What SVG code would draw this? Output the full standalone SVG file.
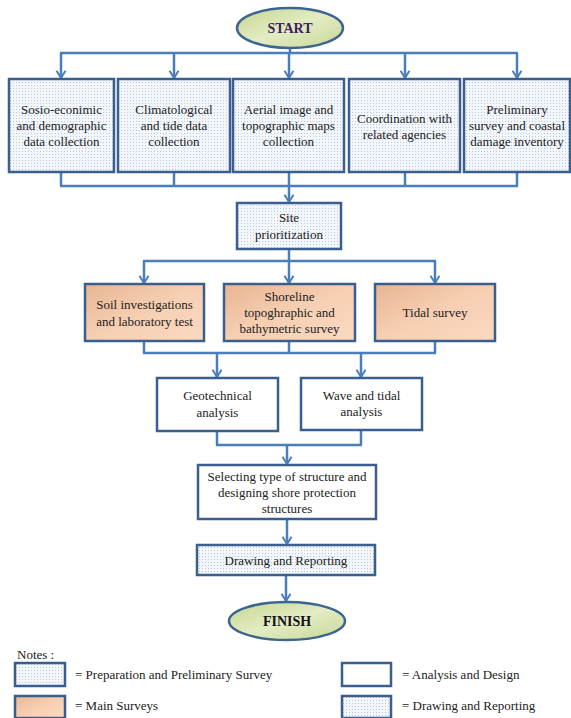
<svg xmlns="http://www.w3.org/2000/svg" width="571" height="718" viewBox="0 0 571 718">
<defs>
<pattern id="dots" width="3" height="3" patternUnits="userSpaceOnUse">
<rect width="3" height="3" fill="#f3f6fa"/>
<rect x="1" y="1" width="1" height="1" fill="#b9c9de"/>
</pattern>
<linearGradient id="orange" x1="0" y1="0" x2="1" y2="1">
<stop offset="0" stop-color="#e8b592"/>
<stop offset="0.5" stop-color="#f6cfb3"/>
<stop offset="1" stop-color="#fbd9c0"/>
</linearGradient>
<linearGradient id="green" x1="0" y1="0" x2="1" y2="1">
<stop offset="0" stop-color="#c5d78f"/>
<stop offset="0.5" stop-color="#e3ecc4"/>
<stop offset="1" stop-color="#c7d896"/>
</linearGradient>
<marker id="arr" viewBox="0 0 10 12" refX="9" refY="6" markerWidth="9" markerHeight="12" markerUnits="userSpaceOnUse" orient="auto">
<path d="M1,1 L9,6 L1,11" fill="none" stroke="#4a7ebb" stroke-width="2.2"/>
</marker>
</defs>
<style>
.box{stroke:#3a5f8f;stroke-width:2.5}
.prep{fill:url(#dots)}
.main{fill:url(#orange)}
.ana{fill:#ffffff}
.ell{fill:url(#green);stroke:#3d6590;stroke-width:2.5}
.t{font-family:"Liberation Serif","Times New Roman",serif;font-size:13px;fill:#222;text-anchor:middle}
.lg{font-family:"Liberation Serif","Times New Roman",serif;font-size:13px;fill:#222}
.c{fill:none;stroke:#4a7ebb;stroke-width:2.5}
.a{marker-end:url(#arr)}
</style>

<g id="connectors">
<path class="c" d="M290,48 V53 M60,53 H518"/>
<path class="c a" d="M61,53 V78"/>
<path class="c a" d="M174,53 V78"/>
<path class="c a" d="M289,53 V78"/>
<path class="c a" d="M405,53 V78"/>
<path class="c a" d="M517,53 V78"/>
<path class="c" d="M61,172 V186 M174,172 V186 M289,172 V186 M405,172 V186 M517,172 V186 M60,186 H518"/>
<path class="c a" d="M289,186 V202"/>
<path class="c" d="M289,249 V261 M143,261 H436"/>
<path class="c a" d="M144,261 V283"/>
<path class="c a" d="M289,261 V283"/>
<path class="c a" d="M435,261 V283"/>
<path class="c" d="M144,341 V353 M289,341 V353 M435,341 V353 M143,353 H436"/>
<path class="c a" d="M217,353 V377"/>
<path class="c a" d="M361,353 V377"/>
<path class="c" d="M217,431 V445 M361,431 V445 M216,445 H362"/>
<path class="c a" d="M287,445 V464"/>
<path class="c a" d="M287,519 V544"/>
<path class="c a" d="M286,575 V601"/>
</g>

<g id="start">
<ellipse class="ell" cx="290" cy="28" rx="53" ry="20"/>
<text x="290" y="33" font-family="Liberation Serif,serif" font-size="14" font-weight="bold" fill="#3f1f5c" text-anchor="middle">START</text>
</g>

<g id="n1">
<rect class="box prep" x="9" y="79" width="105" height="93"/>
<text class="t" x="61.5" y="114">Sosio-econimic</text>
<text class="t" x="61.5" y="130">and demographic</text>
<text class="t" x="61.5" y="146">data collection</text>
</g>
<g id="n2">
<rect class="box prep" x="118" y="79" width="112" height="93"/>
<text class="t" x="174" y="114">Climatological</text>
<text class="t" x="174" y="130">and tide data</text>
<text class="t" x="174" y="146">collection</text>
</g>
<g id="n3">
<rect class="box prep" x="233" y="79" width="111" height="93"/>
<text class="t" x="288.5" y="114">Aerial image and</text>
<text class="t" x="288.5" y="130">topographic maps</text>
<text class="t" x="288.5" y="146">collection</text>
</g>
<g id="n4">
<rect class="box prep" x="349" y="79" width="111" height="93"/>
<text class="t" x="404.5" y="123">Coordination with</text>
<text class="t" x="404.5" y="139">related agencies</text>
</g>
<g id="n5">
<rect class="box prep" x="464" y="79" width="106" height="93"/>
<text class="t" x="517" y="114">Preliminary</text>
<text class="t" x="517" y="130">survey and coastal</text>
<text class="t" x="517" y="146">damage inventory</text>
</g>

<g id="site">
<rect class="box prep" x="237" y="203" width="104" height="46"/>
<text class="t" x="289" y="222">Site</text>
<text class="t" x="289" y="239">prioritization</text>
</g>

<g id="soil">
<rect class="box main" x="85" y="284" width="119" height="57"/>
<text class="t" x="144.5" y="309">Soil investigations</text>
<text class="t" x="144.5" y="326">and laboratory test</text>
</g>
<g id="shore">
<rect class="box main" x="224" y="284" width="131" height="57"/>
<text class="t" x="289.5" y="301">Shoreline</text>
<text class="t" x="289.5" y="317">topoghraphic and</text>
<text class="t" x="289.5" y="333">bathymetric survey</text>
</g>
<g id="tidal">
<rect class="box main" x="375" y="284" width="120" height="57"/>
<text class="t" x="435" y="317">Tidal survey</text>
</g>

<g id="geo">
<rect class="box ana" x="157" y="378" width="121" height="53"/>
<text class="t" x="217.5" y="400">Geotechnical</text>
<text class="t" x="217.5" y="417">analysis</text>
</g>
<g id="wave">
<rect class="box ana" x="301" y="378" width="121" height="52"/>
<text class="t" x="361.5" y="400">Wave and tidal</text>
<text class="t" x="361.5" y="416">analysis</text>
</g>

<g id="select">
<rect class="box ana" x="198" y="465" width="178" height="54"/>
<text class="t" x="287" y="481">Selecting type of structure and</text>
<text class="t" x="287" y="497">designing shore protection</text>
<text class="t" x="287" y="513">structures</text>
</g>

<g id="draw">
<rect class="box prep" x="197" y="545" width="178" height="30"/>
<text class="t" x="286" y="565">Drawing and Reporting</text>
</g>

<g id="finish">
<ellipse class="ell" cx="287" cy="621" rx="58" ry="19"/>
<text x="287" y="626" font-family="Liberation Serif,serif" font-size="14" font-weight="bold" fill="#111" text-anchor="middle">FINISH</text>
</g>

<g id="legend">
<text class="lg" x="17" y="659">Notes :</text>
<rect class="box prep" x="15" y="663" width="50" height="23"/>
<text class="lg" x="75" y="679">= Preparation and Preliminary Survey</text>
<rect class="box main" x="15" y="696" width="50" height="22"/>
<text class="lg" x="75" y="710">= Main Surveys</text>
<rect class="box ana" x="342" y="663" width="49" height="23"/>
<text class="lg" x="402" y="679">= Analysis and Design</text>
<rect class="box prep" x="342" y="696" width="49" height="22"/>
<text class="lg" x="402" y="710">= Drawing and Reporting</text>
</g>
</svg>
